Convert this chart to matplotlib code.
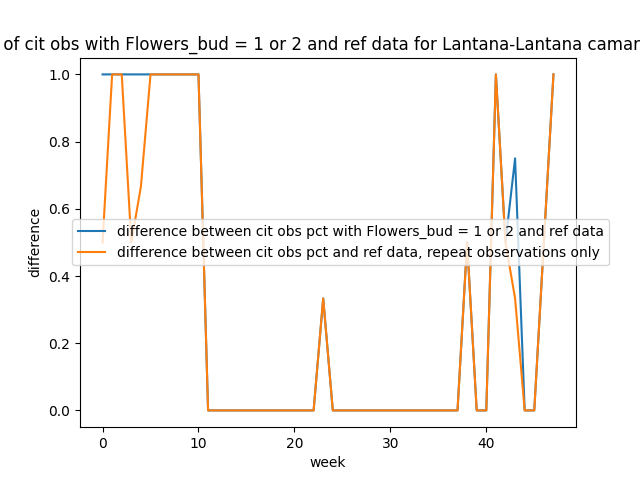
import matplotlib
matplotlib.use("Agg")
import matplotlib.pyplot as plt

weeks = list(range(48))
blue = [1]*11 + [0]*12 + [1/3] + [0]*14 + [0.5, 0, 0, 1, 0.5, 0.75, 0, 0, 0.5, 1]
orange = [0.5, 1, 1, 0.5, 2/3] + [1]*6 + [0]*12 + [1/3] + [0]*14 + [0.5, 0, 0, 1, 0.5, 1/3, 0, 0, 0.5, 1]

fig, ax = plt.subplots(figsize=(6.4, 4.8), dpi=100)
ax.plot(weeks, blue, label="difference between cit obs pct with Flowers_bud = 1 or 2 and ref data")
ax.plot(weeks, orange, label="difference between cit obs pct and ref data, repeat observations only")
ax.set_xlabel("week")
ax.set_ylabel("difference")
ax.set_title("Difference of cit obs with Flowers_bud = 1 or 2 and ref data for Lantana-Lantana camara", x=0.405)
ax.legend(loc="center left", bbox_to_anchor=(-0.03, 0.5))
fig.savefig("out.png")
